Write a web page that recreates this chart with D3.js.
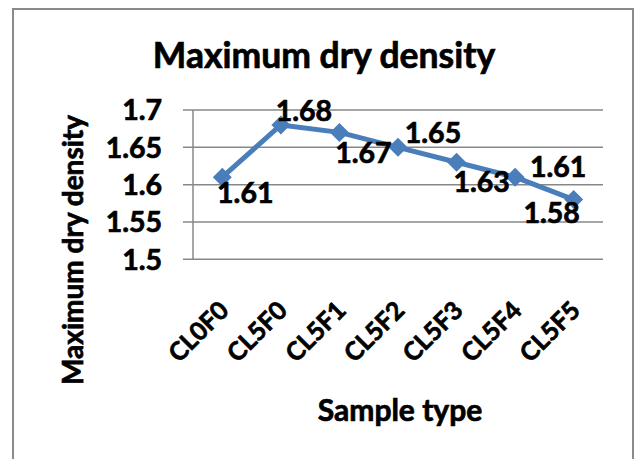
<!DOCTYPE html>
<html><head><meta charset="utf-8">
<script src="https://cdn.jsdelivr.net/npm/d3@7/dist/d3.min.js"></script>
<style>body{margin:0;background:#fff}svg{display:block}text{font-family:Lato,"Open Sans",sans-serif;font-weight:bold;fill:#000;stroke:#000;stroke-width:0.7px}</style>
</head><body>
<script>
const categories = ["CL0F0","CL5F0","CL5F1","CL5F2","CL5F3","CL5F4","CL5F5"];
const values = [1.61,1.68,1.67,1.65,1.63,1.61,1.58];
const yTicks = [1.5,1.55,1.6,1.65,1.7];
const yTickLabels = ["1.5","1.55","1.6","1.65","1.7"];
// label placement relative to each point: [dx, dy of baseline]
const labelOffsets = [[23,26],[23,-4],[24,31],[35,-4],[25,30],[43,0],[-22,23]];

const W = 638, H = 459;
const svg = d3.select("body").append("svg").attr("width", W).attr("height", H);
svg.append("rect").attr("x",13).attr("y",9).attr("width",620).attr("height",470)
  .attr("fill","#fff").attr("stroke","#8a8a8a").attr("stroke-width",2);

const x = d3.scaleBand().domain(categories).range([193,603]);
const y = d3.scaleLinear().domain([1.5,1.7]).range([259.3,110]);

// gridlines
svg.append("g").selectAll("line").data(yTicks).join("line")
  .attr("x1",183).attr("x2",603).attr("y1",d=>y(d)).attr("y2",d=>y(d))
  .attr("stroke","#878787").attr("stroke-width",1.5);
svg.append("line").attr("x1",193).attr("x2",193).attr("y1",y(1.7)).attr("y2",y(1.5))
  .attr("stroke","#878787").attr("stroke-width",1.5);

// y tick labels
svg.append("g").selectAll("text").data(yTicks).join("text")
  .attr("x",162).attr("y",d=>y(d)).attr("dy","0.36em").attr("text-anchor","end")
  .attr("font-size",28.5).text((d,i)=>yTickLabels[i]);

// x tick labels
svg.append("g").selectAll("text").data(categories).join("text")
  .attr("transform",d=>`translate(${x(d)+x.bandwidth()/2+8},${312}) rotate(-45)`)
  .attr("text-anchor","end").attr("font-size",25).text(d=>d);

// line
const cx = (d,i)=>x(categories[i])+x.bandwidth()/2;
svg.append("path").datum(values)
  .attr("d", d3.line().x(cx).y(d=>y(d)))
  .attr("fill","none").attr("stroke","#4a7ebb").attr("stroke-width",5).attr("stroke-linejoin","round");
svg.append("g").selectAll("path").data(values).join("path")
  .attr("transform",(d,i)=>`translate(${cx(d,i)},${y(d)})`)
  .attr("d", d3.symbol(d3.symbolDiamond2, 230))
  .attr("fill","#4a7ebb");

// data labels
svg.append("g").selectAll("text").data(values).join("text")
  .attr("x",(d,i)=>cx(d,i)+labelOffsets[i][0]).attr("y",(d,i)=>y(d)+labelOffsets[i][1])
  .attr("text-anchor","middle").attr("font-size",28.5).text(d=>d3.format(".2f")(d));

// titles
svg.append("text").attr("x",324).attr("y",68).attr("text-anchor","middle")
  .attr("font-size",35.5).text("Maximum dry density");
svg.append("text").attr("x",400).attr("y",421).attr("text-anchor","middle")
  .attr("font-size",30).text("Sample type");
svg.append("text").attr("transform","translate(83,250) rotate(-90)").attr("text-anchor","middle")
  .attr("font-size",28).text("Maximum dry density");
</script>
</body></html>
